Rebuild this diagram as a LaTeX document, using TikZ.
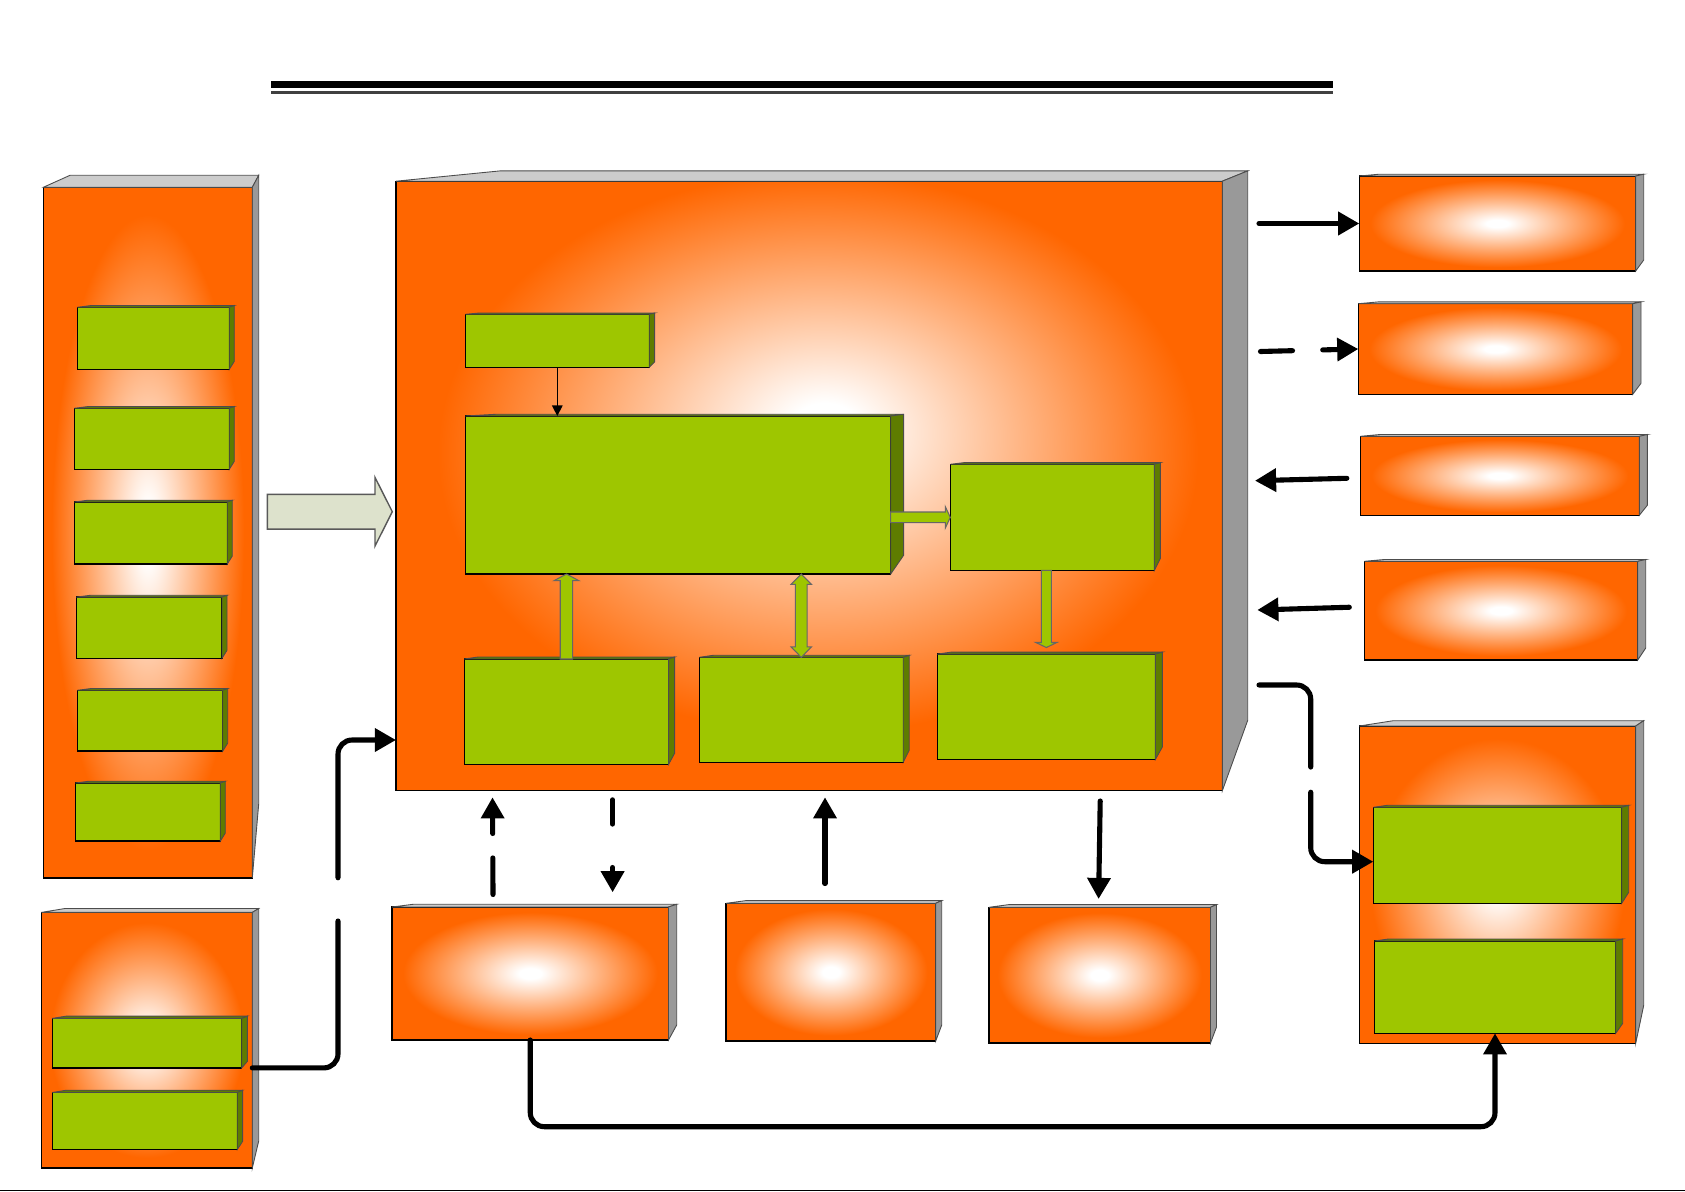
\documentclass[tikz,border=0pt]{standalone}
\usepackage{tikz}
\usetikzlibrary{calc}
\usetikzlibrary{arrows.meta}

\definecolor{boxorange}{RGB}{255,102,0}
\definecolor{boxgreen}{RGB}{158,198,0}
\definecolor{sidegreen}{RGB}{94,124,0}
\definecolor{topgrey}{RGB}{204,204,204}
\definecolor{sidegrey}{RGB}{153,153,153}
\definecolor{paleblock}{RGB}{221,226,204}

\pgfdeclareradialshading{glow}{\pgfpoint{0bp}{0bp}}{color(0bp)=(white); color(2bp)=(white); color(12bp)=(boxorange!48!white); color(23bp)=(boxorange); color(50bp)=(boxorange)}
\pgfdeclareradialshading{glowup}{\pgfpoint{1bp}{5bp}}{color(0bp)=(white); color(2bp)=(white); color(12bp)=(boxorange!48!white); color(23bp)=(boxorange); color(50bp)=(boxorange)}

% top and right faces of a box: node, side depth, top depth, top slant, taper, top colour, side colour
\newcommand{\boxsides}[7]{%
  \draw[face, fill=#6] (#1.north west) -- ++(#4,-#3) -- ($(#1.north east)+(#2,-#3)$) -- (#1.north east) -- cycle;
  \draw[face, fill=#7] (#1.north east) -- ++(#2,-#3) -- ($(#1.south east)+(#2,-#5)$) -- (#1.south east) -- cycle;
}

% block arrow: start, tip, shaft half width, head half width, head length, style
\newcommand{\blockarrow}[6]{%
  \coordinate (ba-s) at (#1); \coordinate (ba-t) at (#2);
  \coordinate (ba-b) at ($(ba-t)!#5!(ba-s)$);
  \draw[#6] ($(ba-s)!#3!90:(ba-t)$) -- ($(ba-b)!#3!90:(ba-t)$) -- ($(ba-b)!#4!90:(ba-t)$) -- (ba-t)
    -- ($(ba-b)!#4!-90:(ba-t)$) -- ($(ba-b)!#3!-90:(ba-t)$) -- ($(ba-s)!#3!-90:(ba-t)$) -- cycle;
}
% block arrow with two heads
\newcommand{\dblockarrow}[6]{%
  \coordinate (ba-s) at (#1); \coordinate (ba-t) at (#2);
  \coordinate (ba-b) at ($(ba-t)!#5!(ba-s)$); \coordinate (ba-c) at ($(ba-s)!#5!(ba-t)$);
  \draw[#6] (ba-s) -- ($(ba-c)!#4!-90:(ba-t)$) -- ($(ba-c)!#3!-90:(ba-t)$) -- ($(ba-b)!#3!-90:(ba-t)$)
    -- ($(ba-b)!#4!-90:(ba-t)$) -- (ba-t) -- ($(ba-b)!#4!90:(ba-t)$) -- ($(ba-b)!#3!90:(ba-t)$)
    -- ($(ba-c)!#3!90:(ba-t)$) -- ($(ba-c)!#4!90:(ba-t)$) -- cycle;
}

\begin{document}
\begin{tikzpicture}
    [
    x=0.01cm, y=-0.01cm,
    sz/.style 2 args={minimum width=#1*0.01cm, minimum height=#2*0.01cm},
    obox/.style={draw=black, line width=0.35pt, shade, shading=glow, inner sep=0pt, outer sep=0pt},
    gbox/.style={draw=black, line width=0.35pt, fill=boxgreen, inner sep=0pt, outer sep=0pt},
    face/.style={draw=black!70, line width=0.25pt},
    conn/.style={line width=1.45pt, line cap=round, -{Triangle[length=6pt,width=6.4pt]}},
    gblock/.style={draw=black!60, line width=0.3pt, fill=boxgreen},
    pblock/.style={draw=black!65, line width=0.4pt, fill=paleblock},
    ]
    \useasboundingbox (0,0) rectangle (1685,1191);
    % title rule
    \draw[line width=1.85pt] (271.3,84.3) -- (1333,84.3);
    \draw[line width=0.85pt, black!75] (271.3,92.8) -- (1333,92.8);
    \draw[line width=0.3pt] (0,1190.3) -- (1685,1190.3);
    %
    \node[obox, sz={209}{690.7}] (lbox) at (147.8,532.65) {};
    \boxsides{lbox}{6.4}{12}{26.7}{74}{topgrey}{sidegrey}
    \node[obox, sz={211}{255.6}] (blbox) at (146.8,1040.2) {};
    \boxsides{blbox}{6.4}{3.9}{23.7}{27}{topgrey}{sidegrey}
    \node[obox, shading=glowup, sz={826.3}{609.6}] (main) at (809.15,486) {};
    \boxsides{main}{25.4}{10.3}{104}{70.5}{topgrey}{sidegrey}
    \node[obox, sz={276.4}{95}] (r1) at (1497.5,223.5) {};
    \boxsides{r1}{8}{1.8}{20}{11}{topgrey}{sidegrey}
    \node[obox, sz={274.4}{90.6}] (r2) at (1495.5,349) {};
    \boxsides{r2}{8.3}{1.8}{20}{11}{topgrey}{sidegrey}
    \node[obox, sz={279}{79}] (r3) at (1499.8,475.8) {};
    \boxsides{r3}{8}{1.8}{20}{10}{topgrey}{sidegrey}
    \node[obox, sz={273.4}{98.7}] (r4) at (1501,610.65) {};
    \boxsides{r4}{8}{1.8}{20}{12}{topgrey}{sidegrey}
    \node[obox, sz={276.4}{317.3}] (r5) at (1497.5,884.65) {};
    \boxsides{r5}{8}{5.3}{34}{38}{topgrey}{sidegrey}
    \node[obox, sz={276.5}{133}] (b1) at (530.25,973.5) {};
    \boxsides{b1}{8.2}{2.7}{21}{15}{topgrey}{sidegrey}
    \node[obox, sz={209.6}{137.7}] (b2) at (830.9,972.15) {};
    \boxsides{b2}{6}{2.7}{20}{16}{topgrey}{sidegrey}
    \node[obox, sz={221.6}{135.7}] (b3) at (1099.7,975.15) {};
    \boxsides{b3}{6}{2.7}{20}{16}{topgrey}{sidegrey}
    % green blocks
    \foreach \n/\cx/\cy/\w/\h in {1/153.3/338.3/152/62, 2/151.8/438.8/155/61, 3/150.8/533/153/62,
        4/149.15/627.7/145.7/61.2, 5/150/720.7/145.4/60.8, 6/147.8/812.05/145/58.1}
        {\node[gbox, sz={\w}{\h}] (lg\n) at (\cx,\cy) {};
         \boxsides{lg\n}{5}{1.8}{14}{8}{sidegreen}{sidegreen}}
    \node[gbox, sz={189.4}{49.5}] (g7) at (147,1043.15) {};
    \boxsides{g7}{5.7}{2.3}{14}{6.6}{sidegreen}{sidegreen}
    \node[gbox, sz={185}{56.9}] (g8) at (144.8,1120.95) {};
    \boxsides{g8}{5.3}{2.3}{14}{8}{sidegreen}{sidegreen}
    \node[gbox, sz={184}{53}] (tg) at (557.3,340.8) {};
    \boxsides{tg}{5.3}{1.3}{14}{5.3}{sidegreen}{sidegreen}
    \node[gbox, sz={425.3}{158}] (big) at (678.05,495) {};
    \boxsides{big}{12.9}{1.7}{30}{18.7}{sidegreen}{sidegreen}
    \node[gbox, sz={204}{106.1}] (rmg) at (1052.3,517.35) {};
    \boxsides{rmg}{6}{1.7}{14}{12}{sidegreen}{sidegreen}
    \node[gbox, sz={204.3}{105.3}] (blg) at (566.45,711.65) {};
    \boxsides{blg}{6}{2}{14}{11}{sidegreen}{sidegreen}
    \node[gbox, sz={203.9}{105}] (bmg) at (801.25,709.8) {};
    \boxsides{bmg}{6}{2}{14}{12}{sidegreen}{sidegreen}
    \node[gbox, sz={218}{105.4}] (brg) at (1046.3,706.8) {};
    \boxsides{brg}{7}{2}{14}{12.4}{sidegreen}{sidegreen}
    \node[gbox, sz={248.4}{96}] (r5g1) at (1497.5,855.3) {};
    \boxsides{r5g1}{7}{2}{14}{11}{sidegreen}{sidegreen}
    \node[gbox, sz={241.4}{92.3}] (r5g2) at (1495,987.15) {};
    \boxsides{r5g2}{7}{2}{14}{10}{sidegreen}{sidegreen}
    %
    \draw[line width=0.35pt, -{Triangle[length=3pt,width=3pt]}] (tg.south) -- (tg.south |- big.north);
    \blockarrow{blg.north}{blg.north |- big.south}{0.062cm}{0.124cm}{0.067cm}{gblock}
    \dblockarrow{bmg.north |- big.south}{bmg.north}{0.059cm}{0.102cm}{0.104cm}{gblock}
    \blockarrow{rmg.west -| big.east}{rmg.west}{0.0535cm}{0.107cm}{0.05cm}{gblock}
    \blockarrow{brg.north |- rmg.south}{$(brg.north)+(0,-6.6)$}{0.05cm}{0.105cm}{0.05cm}{gblock}
    \blockarrow{$(lbox.east)+(15,-20.9)$}{$(main.west)+(-3.7,25.7)$}{0.1735cm}{0.3435cm}{0.173cm}{pblock}
    %
    \coordinate (o1) at (1259,223.5);
    \coordinate (o2) at (1260.5,351.5);
    \coordinate (i3) at (1255,480.7);
    \coordinate (i4) at (1257.3,610);
    \coordinate (o5) at (1259,685);
    \coordinate (i6) at (396,740);
    \coordinate (m1) at (492.5,797.3);
    \coordinate (m2) at (612.6,799.8);
    \coordinate (m3) at (825,797.3);
    \coordinate (m4) at (1100.2,801);
    %
    \draw[conn] (o1) -- (r1.west);
    \draw[conn, dash pattern=on 9.1pt off 8.6pt on 40pt] (o2) -- (r2.west);
    \draw[conn] ($(r3.west)+(-13.5,2.5)$) -- (i3);
    \draw[conn] ($(r4.west)+(-15,-3.4)$) -- (i4);
    \draw[conn, rounded corners=4pt, dash pattern=on 36.3pt off 7.15pt on 200pt] (o5) -- ++(51.7,0) |- ($(r5g1.west)+(0,6.4)$);
    \draw[conn, rounded corners=4pt, dash pattern=on 64.4pt off 12.3pt on 200pt] (g7.south -| blbox.east) -- ++(85.7,0) |- (i6);
    \draw[conn, rounded corners=4pt] (b1.south) -- ++(0,86.7) -| (r5g2.south);
    \draw[conn, dash pattern=on 10.4pt off 6.95pt on 40pt] ($(b1.north west)+(101,-12.5)$) -- (m1);
    \draw[conn, dash pattern=on 6.9pt off 12.35pt on 40pt] (m2) -- ($(b1.north west)+(220.6,-14.7)$);
    \draw[conn] ($(b2.north)+(-5.9,-19.8)$) -- (m3);
    \draw[conn] (m4) -- ($(b3.north)+(-1.1,-8.3)$);
\end{tikzpicture}
\end{document}
